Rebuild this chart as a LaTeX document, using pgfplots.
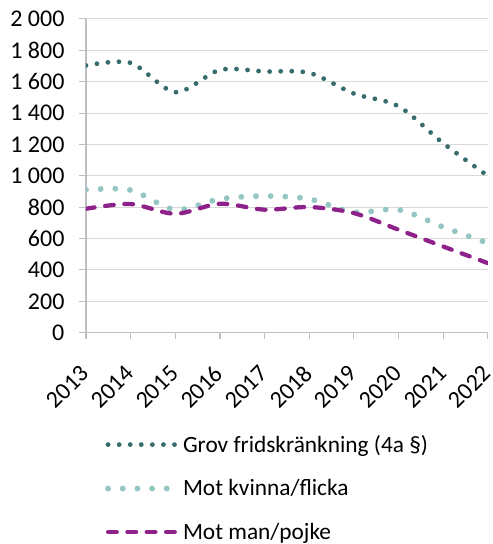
\documentclass[border=0pt]{standalone}
\usepackage{fontspec}
\setmainfont{Carlito}
\usepackage{pgfplots}
\pgfplotsset{compat=1.18}
\definecolor{grovc}{RGB}{56,108,108}
\definecolor{kvinnac}{RGB}{148,198,196}
\definecolor{manc}{RGB}{142,34,138}
\definecolor{gridc}{RGB}{217,217,217}
\definecolor{axisc}{RGB}{191,191,191}
\begin{document}
\begin{tikzpicture}
\begin{axis}[
  name=ax, at={(0,0)}, anchor=south west,
  scale only axis, width=301.5pt, height=235.3pt,
  xmin=2013, xmax=2022, ymin=0, ymax=2000,
  xtick={2013,...,2022}, ytick={0,200,...,2000},
  axis x line*=bottom, axis y line*=left,
  axis line style={draw=axisc, line width=0.8pt},
  x axis line style={-}, y axis line style={-},
  tick style={draw=axisc, line width=0.8pt},
  tick align=outside, major tick length=5pt,
  ymajorgrids, grid style={draw=gridc, line width=0.8pt},
  /pgf/number format/assume math mode=true,
  /pgf/number format/1000 sep={\ },
  xticklabel style={/pgf/number format/1000 sep={}, rotate=45, anchor=east, inner sep=1pt},
  xticklabel shift=22pt,
  tick label style={font=\fontsize{18}{21}\selectfont, text=black},
  yticklabel style={inner sep=2pt, xshift=-9pt},
  legend style={at={(0.047,-0.317)}, anchor=north west, draw=none, fill=none,
    font=\fontsize{17.5}{20}\selectfont, row sep=15pt, inner sep=0pt,
    /tikz/every even column/.append style={column sep=3pt}},
  legend cell align=left,
  legend image code/.code={\draw[#1] (0pt,0pt) -- (52pt,0pt);},
]
\addplot[grovc, smooth, line width=3.6pt, line cap=round, dash pattern=on 0pt off 8.3pt]
coordinates {(2013,1703) (2014,1720) (2015,1533) (2016,1675) (2017,1665) (2018,1656) (2019,1524) (2020,1443) (2021,1207) (2022,999)};
\addlegendentry{Grov fridskränkning (4a §)}
\addplot[kvinnac, smooth, line width=4.4pt, line cap=round, dash pattern=on 0pt off 11pt]
coordinates {(2013,911) (2014,909) (2015,784) (2016,852) (2017,871) (2018,852) (2019,768) (2020,784) (2021,673) (2022,571)};
\addlegendentry{Mot kvinna/flicka}
\addplot[manc, smooth, line width=3.2pt, line cap=round, dash pattern=on 6.5pt off 8pt]
coordinates {(2013,790) (2014,820) (2015,758) (2016,822) (2017,784) (2018,801) (2019,762) (2020,656) (2021,549) (2022,443)};
\addlegendentry{Mot man/pojke}
\end{axis}
\pgfresetboundingbox
\path[use as bounding box] (-64.5pt,-158.5pt) rectangle (305.25pt,249.5pt);
\end{tikzpicture}
\end{document}
